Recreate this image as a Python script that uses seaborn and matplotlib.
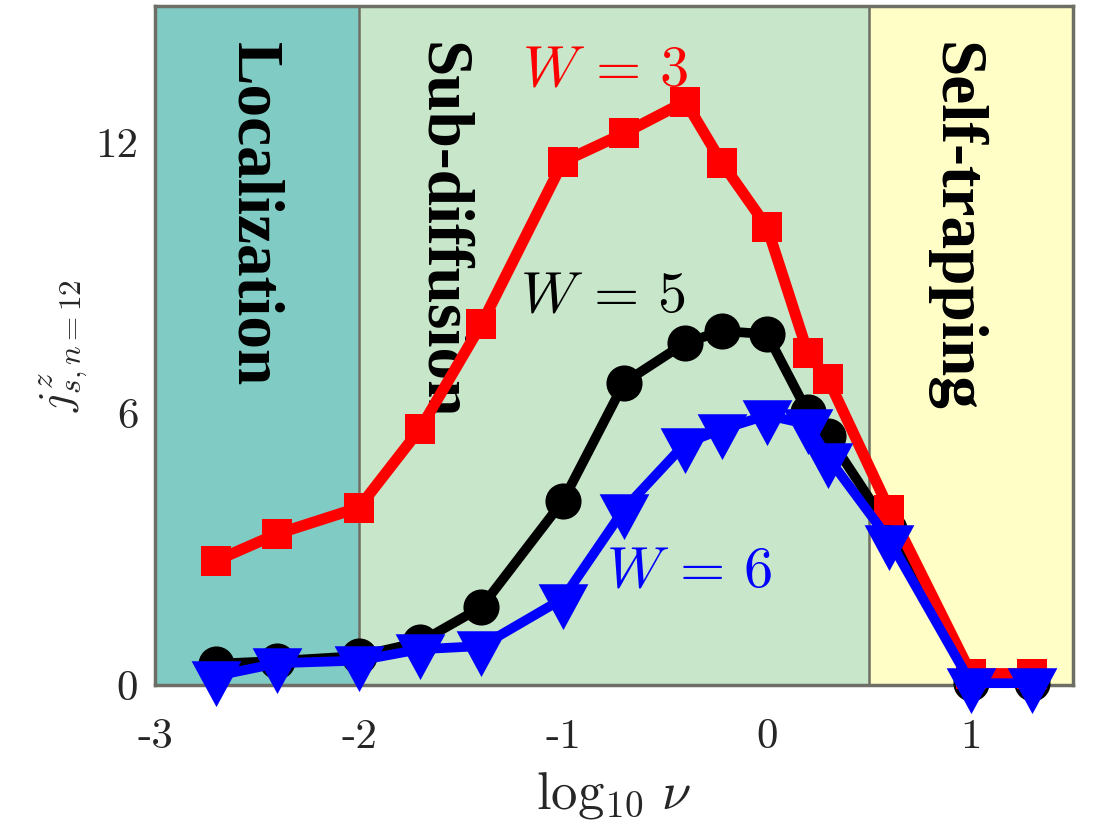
import numpy as np
import pandas as pd
import matplotlib
matplotlib.use("Agg")
import matplotlib.pyplot as plt
import seaborn as sns
from matplotlib.path import Path

# ---------------- data ----------------
log_nu = [-2.7, -2.4, -2.0, -1.7, -1.4, -1.0, -0.7, -0.4, -0.22, 0.0, 0.2, 0.3, 0.6, 1.0, 1.3]
j_W3 = [2.75, 3.34, 3.92, 5.66, 7.97, 11.56, 12.19, 12.89, 11.53, 10.12, 7.34, 6.75, 3.87, 0.25, 0.25]
j_W5 = [0.47, 0.53, 0.64, 0.95, 1.72, 4.07, 6.68, 7.56, 7.82, 7.75, 6.02, 5.50, 3.45, 0.05, 0.05]
j_W6 = [0.20, 0.48, 0.54, 0.79, 0.86, 1.91, 3.89, 5.34, 5.65, 5.96, 5.76, 5.02, 3.20, 0.04, 0.04]

regions = ["Localization", "Sub-diffusion", "Self-trapping"]
region_edges = [-3.0, -2.0, 0.5, 1.5]
region_colors = ["#80CBC4", "#C8E6C9", "#FFFEC6"]

xticks = [-3, -2, -1, 0, 1]
xtick_labels = ["-3", "-2", "-1", "0", "1"]
yticks = [0, 6, 12]
ytick_labels = ["0", "6", "12"]

# ---------------- style ----------------
sns.set_style("white")
plt.rcParams["font.family"] = ["Liberation Serif", "DejaVu Serif"]
plt.rcParams["mathtext.fontset"] = "cm"

fig = plt.figure(figsize=(11.01, 8.36), dpi=100)
ax = fig.add_axes([155 / 1101, 1 - 685 / 836, 918 / 1101, 679 / 836])

# background regions
for (x0, x1, c) in zip(region_edges[:-1], region_edges[1:], region_colors):
    ax.axvspan(x0, x1, color=c, lw=0, zorder=0)
for xb in region_edges[1:-1]:
    ax.axvline(xb, color="#6E6E62", lw=1.8, zorder=1)

# custom downward triangle with data point at centroid (MATLAB style)
tri = Path([(-0.543, 0.333), (0.543, 0.333), (0.0, -0.667), (-0.543, 0.333)],
           [Path.MOVETO, Path.LINETO, Path.LINETO, Path.CLOSEPOLY])

df = pd.DataFrame({"log_nu": log_nu, "W3": j_W3, "W5": j_W5, "W6": j_W6})

sns.lineplot(data=df, x="log_nu", y="W5", ax=ax, color="black", lw=7,
             marker="o", markersize=26, markeredgewidth=0, zorder=3, clip_on=False)
sns.lineplot(data=df, x="log_nu", y="W3", ax=ax, color="#FF0000", lw=8,
             marker="s", markersize=21, markeredgewidth=0, zorder=4, clip_on=False)
sns.lineplot(data=df, x="log_nu", y="W6", ax=ax, color="#0000FF", lw=7,
             marker=tri, markersize=44, markeredgewidth=0, zorder=5, clip_on=False)

ax.set_xlim(region_edges[0], region_edges[-1])
ax.set_ylim(0, 15)

# region labels (rotated, reading downward)
label_x = [-2.52, -1.60, 0.92]
for name, lx in zip(regions, label_x):
    ax.text(lx, 14.2, name, rotation=270, ha="center", va="top",
            fontsize=47, fontweight="bold", color="black", zorder=2,
            family=["Liberation Serif", "DejaVu Serif"])

# series labels
ax.text(-1.20, 13.55, r"$W\,=\,3$", color="#FF0000", fontsize=42, ha="left", va="center", zorder=6)
ax.text(-1.21, 8.55, r"$W\,=\,5$", color="black", fontsize=42, ha="left", va="center", zorder=6)
ax.text(-0.79, 2.49, r"$W\,=\,6$", color="#0000FF", fontsize=42, ha="left", va="center", zorder=6)

# ticks
ax.set_xticks(xticks)
ax.set_xticklabels(xtick_labels, family="cmr10", fontsize=31)
ax.set_yticks(yticks)
ax.set_yticklabels(ytick_labels, family="cmr10", fontsize=31)
ax.tick_params(direction="in", length=7, width=1.5, color="#707070")
ax.tick_params(axis="x", pad=24)
ax.tick_params(axis="y", pad=12)

ax.set_xlabel(r"$\log_{10}\,\nu$", fontsize=38, labelpad=10)
ax.set_ylabel(r"$j^{z}_{s,n=12}$", fontsize=32, labelpad=4)

for side in ["left", "right", "top", "bottom"]:
    ax.spines[side].set_visible(True)
    ax.spines[side].set_color("#6E6E66")
    ax.spines[side].set_linewidth(2.5)
    ax.spines[side].set_zorder(2.5)

fig.savefig("out.png", dpi=100)
